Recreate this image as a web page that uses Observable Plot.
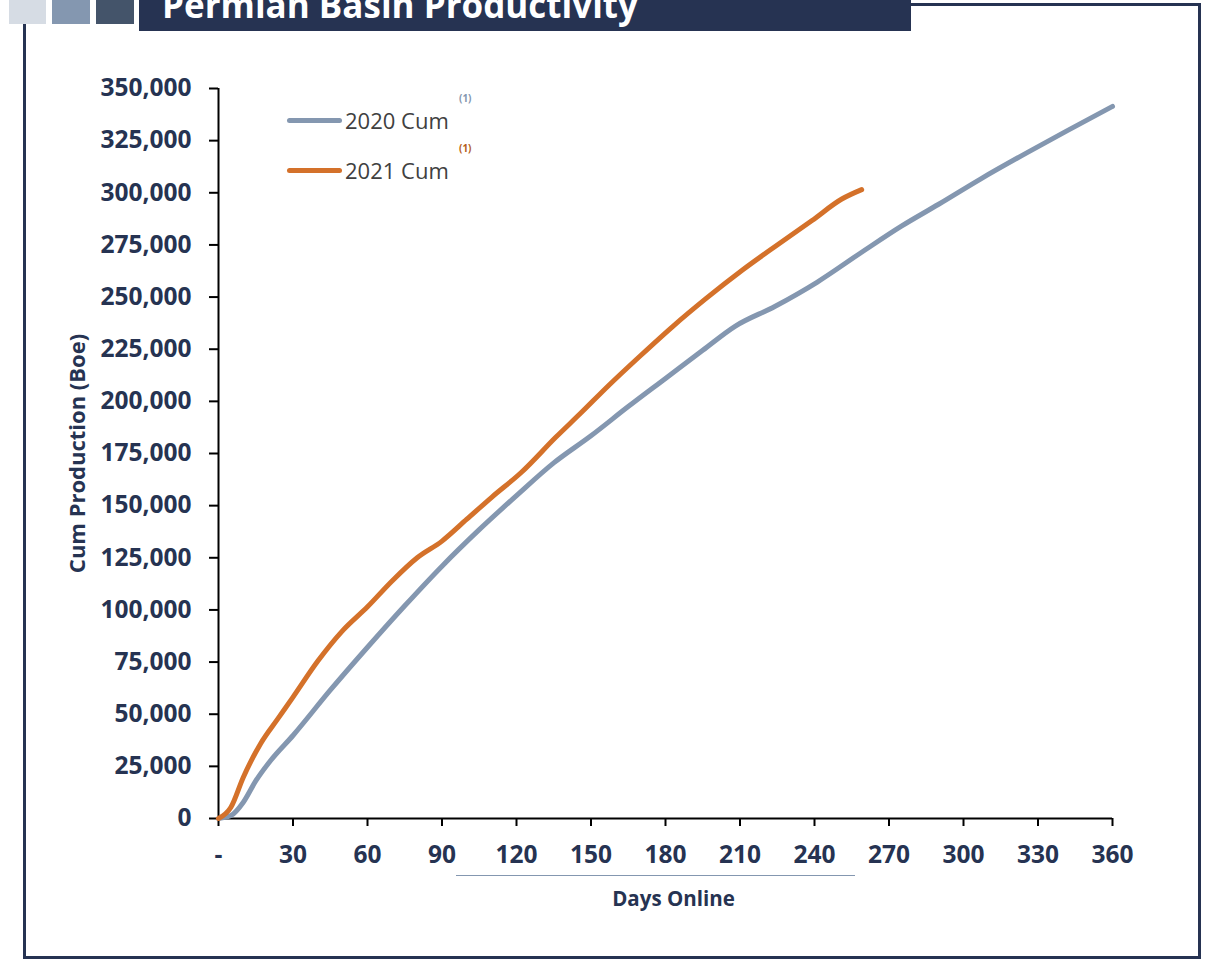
<!DOCTYPE html>
<html>
<head>
<meta charset="utf-8">
<script src="https://cdn.jsdelivr.net/npm/d3@7"></script>
<script src="https://cdn.jsdelivr.net/npm/@observablehq/plot@0.6"></script>
<style>
  html, body { margin: 0; padding: 0; background: #fff; }
  #page { position: relative; width: 1206px; height: 960px; overflow: hidden; font-family: "Open Sans", sans-serif; }
  .abs { position: absolute; }
  .fr { position: absolute; background: #263352; }
  #chart { position: absolute; left: 0; top: 0; }
  .leg { position: absolute; font-size: 22px; color: #404040; white-space: nowrap; }
  .legline { position: absolute; height: 5px; border-radius: 3px; }
  .sup { position: absolute; font-size: 10px; font-weight: bold; }
</style>
</head>
<body>
<div id="page">
  <!-- frame -->
  <div class="fr" style="left:23px; top:23px; width:2.5px; height:936px;"></div>
  <div class="fr" style="left:23px; top:956px; width:1178px; height:2.5px;"></div>
  <div class="fr" style="left:1198px; top:3px; width:2.5px; height:956px;"></div>
  <div class="fr" style="left:908px; top:3px; width:292px; height:2.5px;"></div>
  <!-- header squares and title bar -->
  <div class="abs" style="left:9px; top:0; width:37px; height:24px; background:#D6DCE4;"></div>
  <div class="abs" style="left:52px; top:0; width:38px; height:24px; background:#8497B0;"></div>
  <div class="abs" style="left:96px; top:0; width:38px; height:24px; background:#44546A;"></div>
  <div class="abs" style="left:139px; top:0; width:772px; height:31px; background:#263352; overflow:hidden;">
    <div style="position:absolute; left:23px; top:-17px; font-size:35px; line-height:44px; font-weight:bold; color:#fff; white-space:nowrap;">Permian Basin Productivity</div>
  </div>
  <div id="chart"></div>
  <!-- x-axis title underline -->
  <div class="abs" style="left:456px; top:875px; width:399px; height:1px; background:#8497B0;"></div>
  <div id="legend"></div>
</div>
<script>
// ---- data ----
const days2020 = [0, 5, 10, 15, 21, 30, 45, 60, 75, 90, 105, 120, 135, 150, 165, 180, 195, 208, 224, 241, 259, 275, 290, 307, 326, 342, 360];
const cum2020  = [0, 1400, 7800, 18000, 27800, 39800, 61500, 82100, 102000, 121000, 138500, 154800, 170500, 183500, 197500, 211000, 224500, 236000, 245500, 257100, 271500, 284000, 294500, 306700, 319500, 329900, 341400];
const days2021 = [0, 5, 10, 17, 24, 30, 40, 50, 60, 70, 80, 90, 100, 110, 122, 136, 146, 157, 170, 183, 196, 211, 225, 239, 251, 259];
const cum2021  = [0, 5400, 19800, 36000, 48000, 58200, 75500, 90100, 101500, 114000, 125000, 133000, 143500, 154000, 166000, 183000, 194500, 207500, 222000, 236000, 249000, 263000, 275000, 286700, 297000, 301500];
const seriesNames = ["2020 Cum", "2021 Cum"];
const seriesColors = ["#8497B0", "#D4712A"];
const supColors = ["#8497B0", "#B4601C"];
const xTicks = [0, 30, 60, 90, 120, 150, 180, 210, 240, 270, 300, 330, 360];
const yTicks = [0, 25000, 50000, 75000, 100000, 125000, 150000, 175000, 200000, 225000, 250000, 275000, 300000, 325000, 350000];
const xTitle = "Days Online";
const yTitle = "Cum Production (Boe)";

const rows = [
  ...days2020.map((d, i) => ({series: seriesNames[0], day: d, cum: cum2020[i]})),
  ...days2021.map((d, i) => ({series: seriesNames[1], day: d, cum: cum2021[i]}))
];

const navy = "#263352";
const chart = Plot.plot({
  width: 1206,
  height: 960,
  marginLeft: 218,
  marginRight: 94,
  marginTop: 88,
  marginBottom: 142,
  style: {fontFamily: "'Open Sans', sans-serif", fontWeight: "bold", color: navy, background: "transparent", overflow: "visible"},
  x: {domain: [0, 360], ticks: xTicks},
  y: {domain: [0, 350000], ticks: yTicks},
  color: {domain: seriesNames, range: seriesColors},
  marks: [
    Plot.axisY({ticks: yTicks, tickFormat: d3.format(","), tickSize: 9, tickPadding: 18, fontSize: 24.5, stroke: "black", strokeWidth: 2, fill: navy, label: null}),
    Plot.axisX({ticks: xTicks, tickFormat: d => d === 0 ? "-" : String(d), tickSize: 8, tickPadding: 19, fontSize: 24.5, stroke: "black", strokeWidth: 2, fill: navy, label: null}),
    Plot.ruleX([0], {y1: 0, y2: 350000, stroke: "black", strokeWidth: 2}),
    Plot.ruleY([0], {x1: 0, x2: 360, stroke: "black", strokeWidth: 2}),
    Plot.line(rows, {x: "day", y: "cum", z: "series", stroke: "series", strokeWidth: 5, curve: "monotone-x", strokeLinecap: "round", strokeLinejoin: "round"}),
    Plot.text([yTitle], {frameAnchor: "left", textAnchor: "middle", rotate: -90, dx: -141, fontSize: 22, fill: navy}),
    Plot.text([xTitle], {frameAnchor: "bottom", dx: 8, dy: 87, fontSize: 20.5, fill: navy})
  ]
});
document.getElementById("chart").appendChild(chart);

// legend (HTML)
const legend = document.getElementById("legend");
seriesNames.forEach((name, i) => {
  const y = 120 + i * 50;
  const ln = document.createElement("div");
  ln.className = "legline";
  ln.style.cssText = `left:287px; top:${y - 2.5}px; width:55px; background:${seriesColors[i]};`;
  legend.appendChild(ln);
  const t = document.createElement("div");
  t.className = "leg";
  t.style.cssText = `left:345px; top:${y - 16}px; line-height:32px;`;
  t.textContent = name;
  legend.appendChild(t);
  const s = document.createElement("div");
  s.className = "sup";
  s.style.cssText = `left:459px; top:${y - 29}px; color:${supColors[i]};`;
  s.textContent = "(1)";
  legend.appendChild(s);
});
</script>
</body>
</html>
